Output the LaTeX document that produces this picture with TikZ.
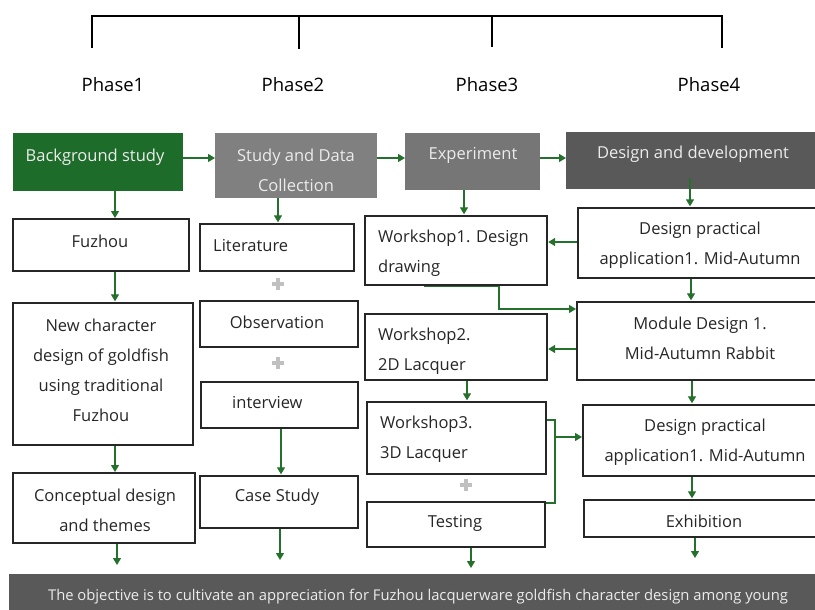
\documentclass[tikz,border=0pt]{standalone}
\usepackage{fontspec}
\setmainfont{Open Sans}
\usetikzlibrary{arrows.meta}
\definecolor{flowgreen}{RGB}{36,112,44}
\definecolor{leadgreen}{RGB}{30,108,42}
\definecolor{midgray}{RGB}{128,128,128}
\definecolor{expgray}{RGB}{118,118,118}
\definecolor{darkgray}{RGB}{89,89,89}
\definecolor{inkgray}{RGB}{38,38,38}
\definecolor{paletext}{RGB}{236,236,236}
\definecolor{plusgray}{RGB}{192,192,192}
\tikzset{
  box/.style={draw=black!85, line width=1.5pt, fill=white, inner sep=0pt, anchor=north west},
  headbox/.style={inner sep=0pt, anchor=north west},
  arr/.style={draw=flowgreen, line width=1.3pt, -{Triangle[length=7pt,width=8pt]}},
  gline/.style={draw=flowgreen, line width=1.3pt},
  txt/.style={font=\fontsize{16.5}{30}\selectfont, text=inkgray, inner sep=0pt, align=center},
  ltxt/.style={txt, align=left, anchor=west},
  htxt/.style={txt, text=paletext},
  phase/.style={font=\fontsize{18.5}{22}\selectfont, text=black, inner sep=0pt},
  plussign/.style={draw=plusgray, line width=4.5pt},
  bracket/.style={draw=black, line width=1.7pt}
}
\begin{document}
\begin{tikzpicture}[x=1pt,y=-1pt]
\useasboundingbox (0,0) rectangle (815,610);

% phase bracket
\draw[bracket] (92,48) -- (92,16) -- (722,16) -- (722,48);
\draw[bracket] (299,16) -- (299,49);
\draw[bracket] (492,16) -- (492,47);

\node[phase] (p1) at (113,85) {Phase1};
\node[phase] (p2) at (293,85) {Phase2};
\node[phase] (p3) at (487,85) {Phase3};
\node[phase] (p4) at (709,85) {Phase4};

% phase heads
\node[headbox, fill=leadgreen, minimum width=170pt, minimum height=58pt] (bg) at (13,133) {};
\node[htxt] (bgt) at (95,157) {Background study};
\node[headbox, fill=midgray, minimum width=162pt, minimum height=65pt] (sdc) at (215,133) {};
\node[htxt] (sdct) at (296,170) {Study and Data\\Collection};
\node[headbox, fill=expgray, minimum width=135pt, minimum height=57pt] (exp) at (405,133) {};
\node[htxt] (expt) at (473,155) {Experiment};
\node[headbox, fill=darkgray, minimum width=260pt, minimum height=57pt] (dd) at (566,132) {};
\node[htxt] (ddt) at (693,154) {Design and development};

% phase 1 column
\node[box, minimum width=176pt, minimum height=52pt] (fuz) at (12,218) {};
\node[txt] (fuzt) at (100,241) {Fuzhou};
\node[box, minimum width=180pt, minimum height=142pt] (newc) at (12,302) {};
\node[txt] (newct) at (101,370) {New character\\design of goldfish\\using traditional\\Fuzhou};
\node[box, minimum width=182pt, minimum height=70pt] (conc) at (12,472) {};
\node[txt] (conct) at (105,510) {Conceptual design\\and themes};

% phase 2 column
\node[box, minimum width=154pt, minimum height=47pt] (lit) at (199,223) {};
\node[ltxt] (litt) at (213,246) {Literature};
\node[box, minimum width=158pt, minimum height=46pt] (obs) at (199,300) {};
\node[txt] (obst) at (277,322) {Observation};
\node[box, minimum width=157pt, minimum height=46pt] (intv) at (200,381) {};
\node[ltxt] (intvt) at (232,403) {interview};
\node[box, minimum width=158pt, minimum height=52pt] (case) at (199,475) {};
\node[txt] (caset) at (277,497) {Case Study};

\draw[plussign] (278,278) -- (278,290) (272,284) -- (284,284);
\draw[plussign] (278,357) -- (278,369) (272,363) -- (284,363);

% phase 3 column
\node[box, minimum width=182pt, minimum height=69pt] (ws1) at (364,215) {};
\node[ltxt] (ws1t) at (378,253) {Workshop1. Design\\drawing};
\node[box, minimum width=182pt, minimum height=66pt] (ws2) at (364,313) {};
\node[ltxt] (ws2t) at (378,351) {Workshop2.\\2D Lacquer};
\node[box, minimum width=179pt, minimum height=72pt] (ws3) at (366,401) {};
\node[ltxt] (ws3t) at (380,439) {Workshop3.\\3D Lacquer};
\node[box, minimum width=178pt, minimum height=45pt] (test) at (366,501) {};
\node[txt] (testt) at (455,523) {Testing};

\draw[plussign] (466,479) -- (466,491) (460,485) -- (472,485);

% phase 4 column
\node[box, minimum width=250pt, minimum height=70pt] (dpa1) at (577,207) {};
\node[txt] (dpa1t) at (700,245) {Design practical\\application1. Mid-Autumn};
\node[box, minimum width=250pt, minimum height=78pt] (mod) at (576,301) {};
\node[txt] (modt) at (700,338) {Module Design 1.\\Mid-Autumn Rabbit};
\node[box, minimum width=245pt, minimum height=71pt] (dpa2) at (582,404) {};
\node[txt] (dpa2t) at (705,442) {Design practical\\application1. Mid-Autumn};
\node[box, minimum width=245pt, minimum height=37pt] (exh) at (583,499) {};
\node[txt] (exht) at (704,521) {Exhibition};

% objective banner
\node[headbox, fill=darkgray, minimum width=810pt, minimum height=40pt] (goal) at (9,574) {};
\node[font=\fontsize{14.8}{18}\selectfont, text=paletext, inner sep=0pt] (goalt) at (418,597) {The objective is to cultivate an appreciation for Fuzhou lacquerware goldfish character design among young};

% connectors between heads
\draw[arr] (bg.east |- 0,158) -- (sdc.west |- 0,158);
\draw[arr] (sdc.east |- 0,158) -- (exp.west |- 0,158);
\draw[arr] (exp.east |- 0,158) -- (dd.west |- 0,158);

% phase 1 flow
\draw[arr] (bg.south -| 115,0) -- (fuz.north -| 115,0);
\draw[arr] (fuz.south -| 115,0) -- ([yshift=0.7pt]newc.north -| 115,0);
\draw[arr] (newc.south -| 115,0) -- (conc.north -| 115,0);
\coordinate (concout) at (117,565);
\draw[arr] (conc.south -| concout) -- (concout);

% phase 2 flow
\draw[arr] (sdc.south -| 278,0) -- ([yshift=0.7pt]lit.north -| 278,0);
\draw[arr] (intv.south -| 281,0) -- ([yshift=0.7pt]case.north -| 281,0);
\coordinate (caseout) at (280,560);
\draw[arr] (case.south -| caseout) -- (caseout);

% phase 3 and 4 flow
\draw[arr] (exp.south -| 464,0) -- ([yshift=0.7pt]ws1.north -| 464,0);
\coordinate (ddout) at (690,178);
\draw[arr] (ddout) -- ([yshift=0.7pt]dpa1.north -| ddout);
\draw[arr] (dpa1.west |- 0,242) -- ([xshift=0.7pt]ws1.east |- 0,242);
\draw[arr] (dpa1.south -| 691,0) -- ([yshift=0.7pt]mod.north -| 691,0);
\draw[arr] ([yshift=-1pt]ws1.south -| 424,0) -- ([yshift=-1pt]ws1.south -| 499,0) |- (mod.west |- 0,309);
\draw[arr] (mod.west |- 0,349) -- ([xshift=0.7pt]ws2.east |- 0,349);
\draw[arr] (ws2.south -| 467,0) -- ([yshift=0.7pt]ws3.north -| 467,0);
\coordinate (join) at (555,437);
\draw[gline] (ws3.east |- 0,420) -| (join |- 0,503) -- (test.east |- 0,503);
\draw[arr] (join) -- (dpa2.west |- join);
\draw[arr] (mod.south -| 692,0) -- ([yshift=0.7pt]dpa2.north -| 692,0);
\draw[arr] (dpa2.south -| 692,0) -- ([yshift=0.7pt]exh.north -| 692,0);
\coordinate (exhout) at (695,558);
\draw[arr] (exh.south -| exhout) -- (exhout);
\coordinate (testout) at (471,568);
\draw[arr] (test.south -| testout) -- (testout);
\end{tikzpicture}
\end{document}
